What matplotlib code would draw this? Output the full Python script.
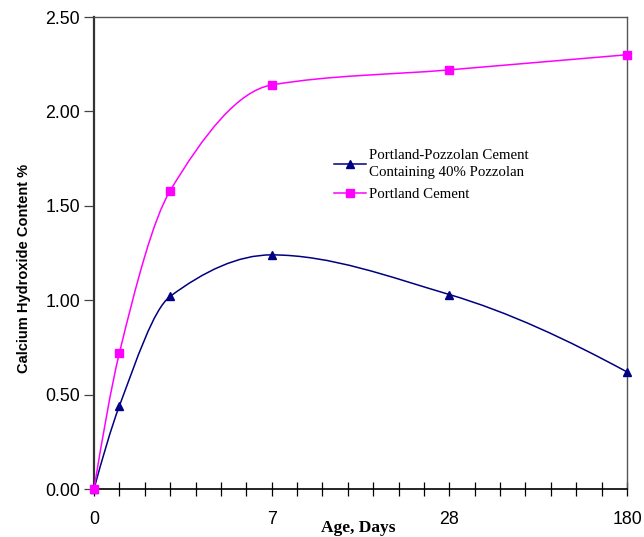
import numpy as np
import matplotlib.pyplot as plt
from matplotlib.path import Path
from matplotlib.patches import PathPatch
from matplotlib.lines import Line2D

# category axis, 22 slots, labels only on some of them
n_slots = 22
tick_labels = {0: '0', 7: '7', 14: '28', 21: '180'}

# data (slot index, value)
slots = [0, 1, 3, 7, 14, 21]
pozzolan = [0.00, 0.44, 1.02, 1.24, 1.03, 0.62]
portland = [0.00, 0.72, 1.58, 2.14, 2.22, 2.30]

blue = '#000080'
pink = '#FF00FF'


def pchip_slopes(x, y):
    # shape preserving tangents (Fritsch-Carlson), used only for drawing the smoothed line
    h = np.diff(x)
    d = np.diff(y) / h
    m = np.zeros(len(x))
    for k in range(1, len(x) - 1):
        if d[k - 1] * d[k] > 0:
            w1 = 2 * h[k] + h[k - 1]
            w2 = h[k] + 2 * h[k - 1]
            m[k] = (w1 + w2) / (w1 / d[k - 1] + w2 / d[k])
    def end(h0, h1, d0, d1):
        s = ((2 * h0 + h1) * d0 - h0 * d1) / (h0 + h1)
        if np.sign(s) != np.sign(d0):
            s = 0.0
        elif np.sign(d0) != np.sign(d1) and abs(s) > abs(3 * d0):
            s = 3 * d0
        return s
    m[0] = end(h[0], h[1], d[0], d[1])
    m[-1] = end(h[-1], h[-2], d[-1], d[-2])
    return m


def smooth_path(x, y):
    x = np.asarray(x, float)
    y = np.asarray(y, float)
    m = pchip_slopes(x, y)
    verts = [(x[0], y[0])]
    codes = [Path.MOVETO]
    for i in range(len(x) - 1):
        h = x[i + 1] - x[i]
        verts += [(x[i] + h / 3, y[i] + m[i] * h / 3),
                  (x[i + 1] - h / 3, y[i + 1] - m[i + 1] * h / 3),
                  (x[i + 1], y[i + 1])]
        codes += [Path.CURVE4] * 3
    return Path(verts, codes)


fig = plt.figure(figsize=(6.44, 5.37), dpi=100, facecolor='white')
ax = fig.add_axes([94 / 644, 48 / 537, 533 / 644, 472 / 537])

for ys, col, mk in [(pozzolan, blue, '^'), (portland, pink, 's')]:
    ax.add_patch(PathPatch(smooth_path(slots, ys), facecolor='none', edgecolor=col, lw=1.1, zorder=3))
    ax.plot(slots, ys, ls='none', marker=mk, ms=6, color=col, mec=col, zorder=4, clip_on=False)

ax.set_xlim(0, n_slots - 1)
ax.set_ylim(0, 2.5)
yt = np.arange(0, 2.51, 0.5)
ax.set_yticks(yt)
ax.set_yticklabels([f'{v:.2f}' for v in yt], fontfamily='Liberation Sans', fontsize=12.8)
ax.set_xticks(range(n_slots))
ax.set_xticklabels([tick_labels.get(i, '') for i in range(n_slots)],
                   fontfamily='Liberation Sans', fontsize=12.8)
ax.tick_params(axis='x', direction='inout', length=10, width=0.9, pad=11, color='black')
ax.tick_params(axis='y', direction='out', length=7, width=0.9, pad=3, color='#444444')

ax.spines['left'].set_color('#333333')
ax.spines['left'].set_linewidth(1.6)
ax.spines['bottom'].set_color('black')
ax.spines['bottom'].set_linewidth(1.2)
for s in ['top', 'right']:
    ax.spines[s].set_color('#555555')
    ax.spines[s].set_linewidth(1.0)

ax.set_ylabel('Calcium Hydroxide Content %', fontfamily='Liberation Sans',
              fontweight='bold', fontsize=10.5)
ax.yaxis.set_label_coords(-0.118, 0.468)
ax.set_xlabel('Age, Days', fontfamily='Liberation Serif', fontweight='bold', fontsize=12.5)
ax.xaxis.set_label_coords(0.496, -0.066)

handles = [
    Line2D([], [], color=blue, marker='^', ms=6, lw=1.1),
    Line2D([], [], color=pink, marker='s', ms=6, lw=1.1),
]
labels = ['Portland-Pozzolan Cement\nContaining 40% Pozzolan', 'Portland Cement']
leg = ax.legend(handles, labels, loc='upper left', bbox_to_anchor=(0.426, 0.748),
                frameon=False, prop={'family': 'Liberation Serif', 'size': 10.7},
                handlelength=2.1, handletextpad=0.2, labelspacing=0.6)
for t in leg.get_texts():
    t.set_linespacing(1.35)

fig.savefig('out.png', dpi=100, facecolor='white')
